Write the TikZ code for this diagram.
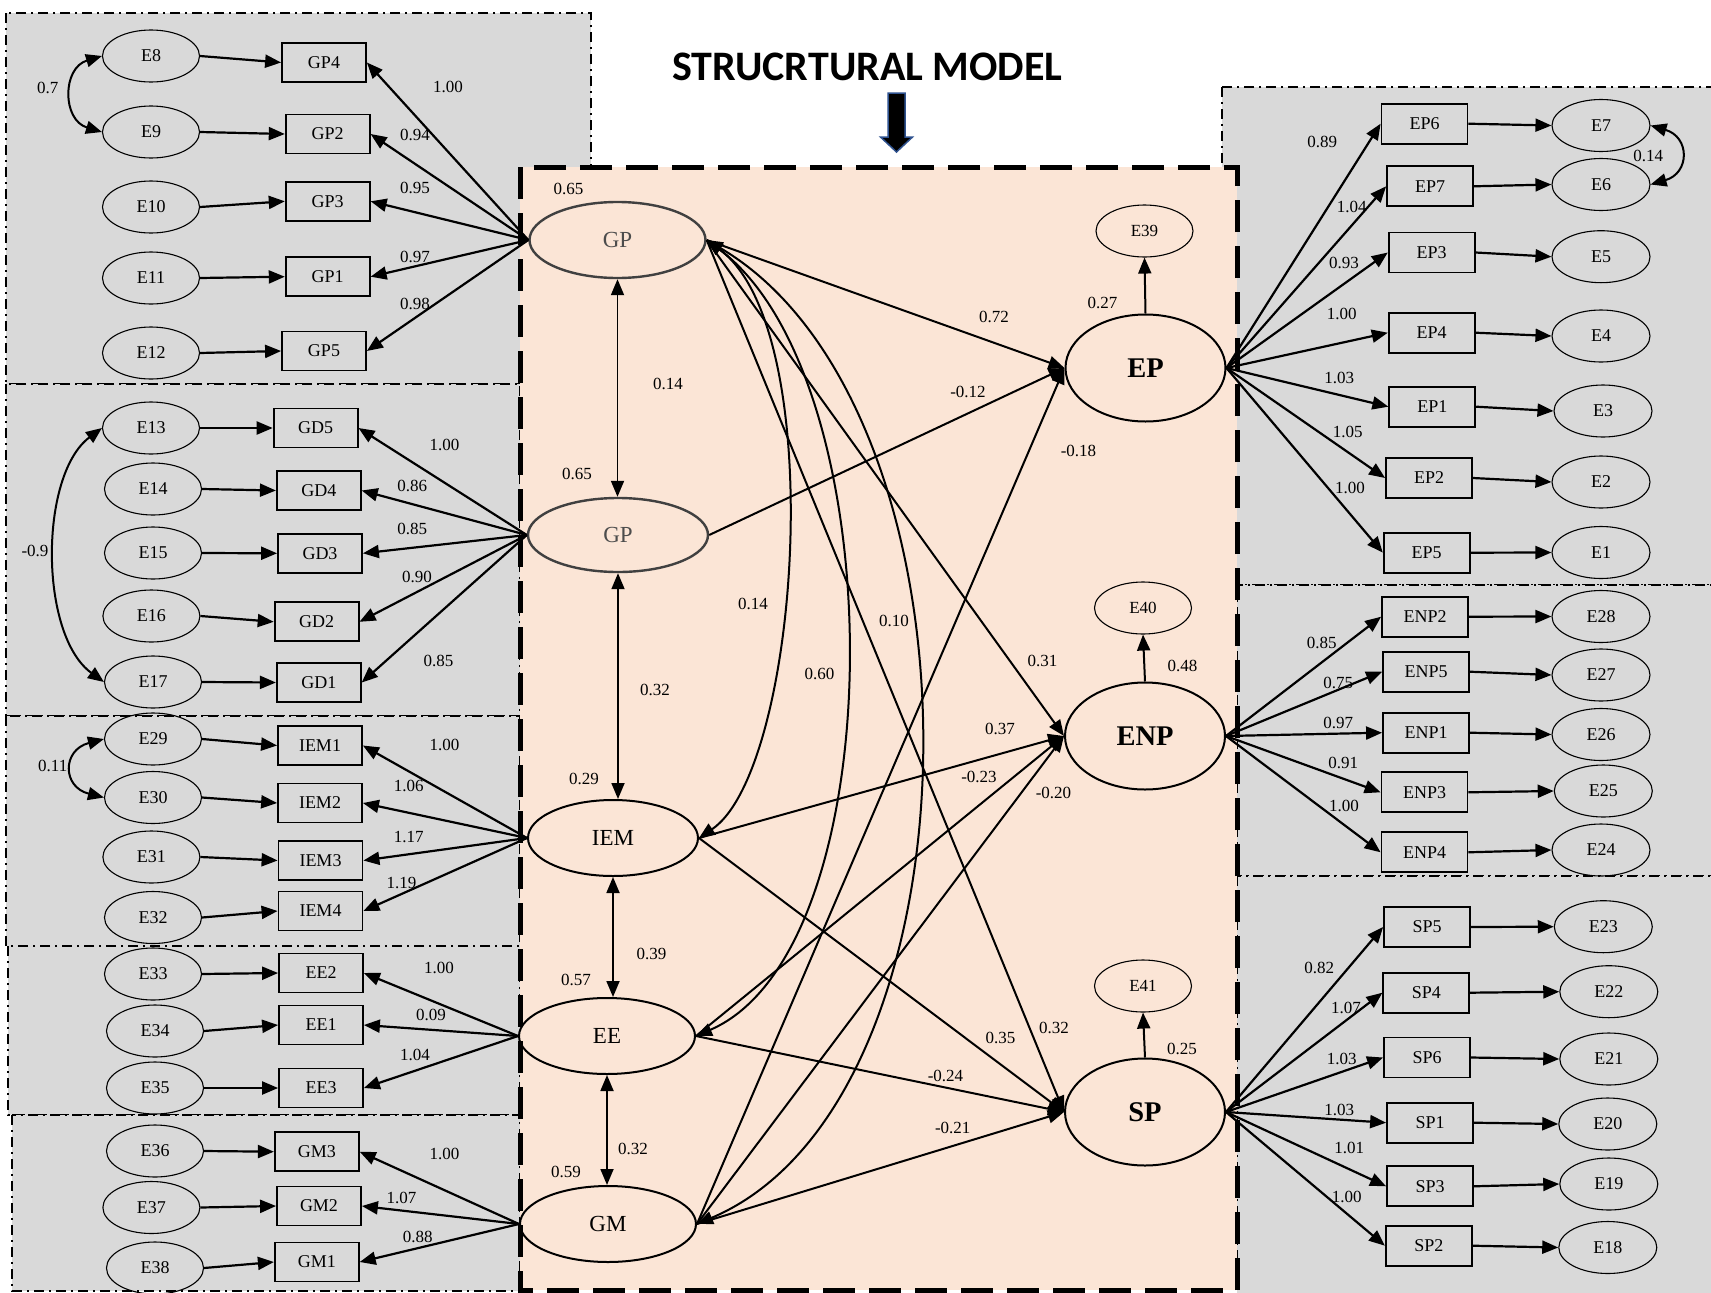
\documentclass[tikz,border=0pt]{standalone}
\usepackage{fontspec}
\setmainfont{Liberation Serif}
\newfontfamily\titlefont{Carlito}
\usetikzlibrary{arrows.meta,shapes.geometric}
\definecolor{panelgray}{RGB}{217,217,217}
\definecolor{peach}{RGB}{251,229,214}
\definecolor{arrowblue}{RGB}{47,82,143}
\tikzset{
  enode/.style={ellipse,draw=black,line width=1.1pt,minimum width=97pt,minimum height=52pt,inner sep=0pt,font=\fontsize{18}{20}\selectfont},
  renode/.style={enode,minimum width=98pt},
  ibox/.style={rectangle,draw=black,line width=1.8pt,minimum width=84pt,minimum height=39pt,inner sep=0pt,font=\fontsize{18}{20}\selectfont},
  rbox/.style={ibox,minimum width=86pt,minimum height=40pt},
  lat/.style={ellipse,draw=black,line width=2pt,minimum width=176pt,minimum height=76pt,inner sep=0pt,font=\fontsize{23}{25}\selectfont},
  endo/.style={ellipse,draw=black,line width=2pt,minimum width=160pt,minimum height=107pt,inner sep=0pt,font=\fontsize{28.5}{30}\selectfont\bfseries},
  arr/.style={-{Triangle[length=16pt,width=13pt]},line width=2.2pt},
  darr/.style={{Triangle[length=16pt,width=13pt]}-{Triangle[length=16pt,width=13pt]},line width=2.2pt},
  lbl/.style={font=\fontsize{17}{19}\selectfont,inner sep=0pt},
  panel/.style={fill=panelgray,draw=black,line width=1.6pt,dash pattern=on 10pt off 5pt on 2pt off 5pt},
}
\begin{document}
\begin{tikzpicture}[x=1pt,y=-1pt]
\useasboundingbox (0,0) rectangle (1711,1293);
\fill[white] (0,0) rectangle (1711,1293);
% measurement panels
\draw[panel] (6,13) rectangle (591,384);
\draw[panel] (6,384) rectangle (520,716);
\draw[panel] (6,716) rectangle (520,946);
\draw[panel] (8,946) rectangle (520,1115);
\draw[panel] (12,1115) rectangle (520,1291);
\draw[panel] (1222,87) rectangle (1730,585);
\draw[panel] (1237,585) rectangle (1730,876);
\draw[panel] (1237,876) rectangle (1730,1320);
% structural box
\draw[fill=peach,line width=5pt,dash pattern=on 32pt off 14pt] (520,167) rectangle (1237,1290);
% title
\node[font=\titlefont\bfseries\fontsize{42}{46}\selectfont,inner sep=0pt] (title) at (867.5,66.5) {STRUCRTURAL MODEL};
\draw[fill=black,draw=arrowblue,line width=1.5pt] (888,93) -- (905,93) -- (905,137) -- (912.5,137) -- (896.5,152) -- (880.5,137) -- (888,137) -- cycle;
% error nodes left
\foreach \n/\x/\y in {E8/151/56,E9/151/132,E10/151/207,E11/151/278,E12/151/353,E13/151/428,E14/153/489,E15/153/553,E16/151.4/616,E17/153/682,E29/153/739,E30/153/797.5,E31/151.4/857,E32/153/917.5,E33/153/974,E34/155/1031,E35/155/1088,E36/155/1151,E37/151.4/1207.5,E38/155/1268}
  \node[enode] (\n) at (\x,\y) {\n};
% error nodes right
\foreach \n/\x/\y in {E7/1601/125.5,E6/1601/184.5,E5/1601/256.7,E4/1601/336,E3/1603/411,E2/1601/482,E1/1601/552.5,E28/1601/616.5,E27/1601/675,E26/1601/734.5,E25/1603.3/791,E24/1601/850,E23/1603.3/926.7,E22/1608.8/991.7,E21/1608.8/1059,E20/1607.8/1124,E19/1608.8/1184,E18/1607.8/1247.5}
  \node[renode] (\n) at (\x,\y) {\n};
\foreach \n/\x/\y in {E39/1144.5/231,E40/1143/608,E41/1143/986}
  \node[enode,font=\fontsize{17}{19}\selectfont] (\n) at (\x,\y) {\n};
% indicator boxes
\foreach \n/\x/\y in {GP4/324/62.5,GP2/327.7/134,GP3/327.7/201.3,GP1/327.7/276.7,GP5/324/351,GD5/315.6/428,GD4/318.8/490.5,GD3/320/553.3,GD2/316.6/621.8,GD1/318.8/682.5,IEM1/320/745.5,IEM2/320/803,IEM3/320.5/860.5,IEM4/320.5/911,EE2/321/973,EE1/321/1025,EE3/321/1088,GM3/316.8/1151.7,GM2/319/1206,GM1/316.8/1262}
  \node[ibox] (\n) at (\x,\y) {\n};
\foreach \n/\x/\y in {EP6/1424.5/123.7,EP7/1430/186.3,EP3/1431.7/252.5,EP4/1431.7/332.7,EP1/1432.3/406.7,EP2/1429/478,EP5/1426.7/552.7,ENP2/1425/616.7,ENP5/1426/671.7,ENP1/1426/732.7,ENP3/1424.5/792.3,ENP4/1424.5/852.3,SP5/1427/927,SP4/1426.3/992.7,SP6/1427/1057.5,SP1/1430/1122.7,SP3/1430/1186.3,SP2/1428.8/1245.7}
  \node[rbox] (\n) at (\x,\y) {\n};
% latent nodes
\node[lat,draw=black!75,text=black!70,line width=2.4pt] (GPa) at (617.5,240) {GP};
\node[lat,draw=black!75,text=black!70,line width=2.4pt,minimum width=180pt,minimum height=74pt] (GPb) at (618,535) {GP};
\node[lat,minimum width=170pt] (IEM) at (613,838) {IEM};
\node[lat] (EE) at (607,1036) {EE};
\node[lat] (GM) at (608,1224) {GM};
\node[endo] (EP) at (1145.5,368) {EP};
\node[endo] (ENP) at (1145,736) {ENP};
\node[endo] (SP) at (1145,1112) {SP};
% error -> indicator (left)
\foreach \a/\b in {E8/GP4,E9/GP2,E10/GP3,E11/GP1,E12/GP5,E13/GD5,E14/GD4,E15/GD3,E16/GD2,E17/GD1,E29/IEM1,E30/IEM2,E31/IEM3,E32/IEM4,E33/EE2,E34/EE1,E35/EE3,E36/GM3,E37/GM2,E38/GM1}
  \draw[arr] (\a.east) -- (\b.west);
% latent -> indicator (left)
\foreach \b in {GP4,GP2,GP3,GP1,GP5} \draw[arr] (GPa.west) -- (\b.east);
\foreach \b in {GD5,GD4,GD3,GD2,GD1} \draw[arr] (GPb.west) -- (\b.east);
\foreach \b in {IEM1,IEM2,IEM3,IEM4} \draw[arr] (IEM.west) -- (\b.east);
\foreach \b in {EE2,EE1,EE3} \draw[arr] (EE.west) -- (\b.east);
\foreach \b in {GM3,GM2,GM1} \draw[arr] (GM.west) -- (\b.east);
% latent -> indicator (right)
\foreach \b in {EP6,EP7,EP3,EP4,EP1,EP2,EP5} \draw[arr] (EP.east) -- (\b.west);
\foreach \b in {ENP2,ENP5,ENP1,ENP3,ENP4} \draw[arr] (ENP.east) -- (\b.west);
\foreach \b in {SP5,SP4,SP6,SP1,SP3,SP2} \draw[arr] (SP.east) -- (\b.west);
% indicator -> error (right)
\foreach \a/\b in {EP6/E7,EP7/E6,EP3/E5,EP4/E4,EP1/E3,EP2/E2,EP5/E1,ENP2/E28,ENP5/E27,ENP1/E26,ENP3/E25,ENP4/E24,SP5/E23,SP4/E22,SP6/E21,SP1/E20,SP3/E19,SP2/E18}
  \draw[arr] (\a.east) -- (\b.west);
% error covariances
\draw[darr,line width=2pt] (E8.west) .. controls (62,68) and (62,120) .. (E9.west);
\draw[darr,line width=2pt] (E13.west) .. controls (39,475) and (39,635) .. (E17.west);
\draw[darr,line width=2pt] (E29.west) .. controls (62,750) and (62,787) .. (E30.west);
\draw[darr,line width=2pt] (E7.east) .. controls (1690,137) and (1690,173) .. (E6.east);
% structural: vertical covariances
\draw[darr,line width=1.8pt] (GPa.south) -- (GPa.south |- GPb.north);
\draw[darr,line width=1.8pt] (GPb.south) -- (GPb.south |- IEM.north);
\draw[darr,line width=1.8pt] (IEM.south) -- (IEM.south |- EE.north);
\draw[darr,line width=1.8pt] (EE.south) -- (EE.south |- GM.north);
% structural: curved covariances
\draw[darr,line width=2pt] (GPa.east) .. controls (830,330) and (800,770) .. (IEM.east);
\draw[darr,line width=2pt] (GPa.east) .. controls (895,380) and (895,950) .. (EE.east);
\draw[darr,line width=2pt] (GPa.east) .. controls (995,410) and (990,1100) .. (GM.east);
% structural paths
\foreach \a/\b in {GPa/EP,GPb/EP,GM/EP,GPa/ENP,IEM/ENP,EE/ENP,GM/ENP,GPa/SP,IEM/SP,EE/SP,GM/SP}
  \draw[arr,line width=2pt] (\a.east) -- (\b.west);
\draw[arr,line width=2pt] (EP.north) -- (E39.south);
\draw[arr,line width=2pt] (ENP.north) -- (E40.south);
\draw[arr,line width=2pt] (SP.north) -- (E41.south);
% labels
\foreach \n/\x/\y/\t in {
 a1/47.8/88/0.7, a2/448/87/1.00, a3/415/135/0.94, a4/415/188/0.95, a5/415/257/0.97, a6/415/304/0.98,
 b1/444.5/445/1.00, b2/412.3/486/0.86, b3/412.3/529/0.85, b4/417/576.7/0.90, b5/438.4/660.7/0.85, b6/35/550.7/-0.9,
 d1/444.5/745/1.00, d2/408.8/785.7/1.06, d3/408.8/836.7/1.17, d4/401.6/882.7/1.19, d5/52.8/765.7/0.11,
 f1/439/968/1.00, f2/431/1015/0.09, f3/415/1055/1.04,
 g1/444.5/1154/1.00, g2/401.6/1198/1.07, g3/417.7/1237/0.88,
 h1/1322.3/141.7/0.89, h2/1351.7/207.3/1.04, h3/1344/263.3/0.93, h4/1341.7/314.3/1.00, h5/1339.3/377.7/1.03, h6/1347.7/431.7/1.05, h7/1350/488.3/1.00, h8/1648.3/156/0.14,
 k1/1321.7/642.7/0.85, k2/1338.3/682.7/0.75, k3/1338.3/723.3/0.97, k4/1343.3/762.7/0.91, k5/1344/806/1.00,
 m1/1319.3/967.7/0.82, m2/1346/1008.3/1.07, m3/1341.7/1059/1.03, m4/1339.3/1110/1.03, m5/1349.3/1147.7/1.01, m6/1346.7/1196.7/1.00,
 c1/568.5/188.8/0.65, c2/668/384/0.14, c3/577/474/0.65, c4/994/316.5/0.72, c5/968/391.7/-0.12,
 c6/753/603.5/0.14, c7/894/621/0.10, c8/819.5/673.5/0.60, c9/655/690/0.32, c10/1000/729/0.37,
 c11/979/776.5/-0.23, c12/584/778.5/0.29, c13/651.5/954/0.39, c14/576/980/0.57, c15/1000.5/1038/0.35,
 c16/945.5/1076/-0.24, c17/633/1148.5/0.32, c18/566/1172/0.59, c19/952.7/1127.5/-0.21, c20/1078.5/450.5/-0.18,
 c21/1053.5/793/-0.20, c22/1042.5/660.5/0.31, c23/1054/1027.5/0.32, c24/1102.5/302.5/0.27, c25/1182.5/666/0.48, c26/1182/1048.5/0.25}
  \node[lbl] (\n) at (\x,\y) {\t};
\end{tikzpicture}
\end{document}
